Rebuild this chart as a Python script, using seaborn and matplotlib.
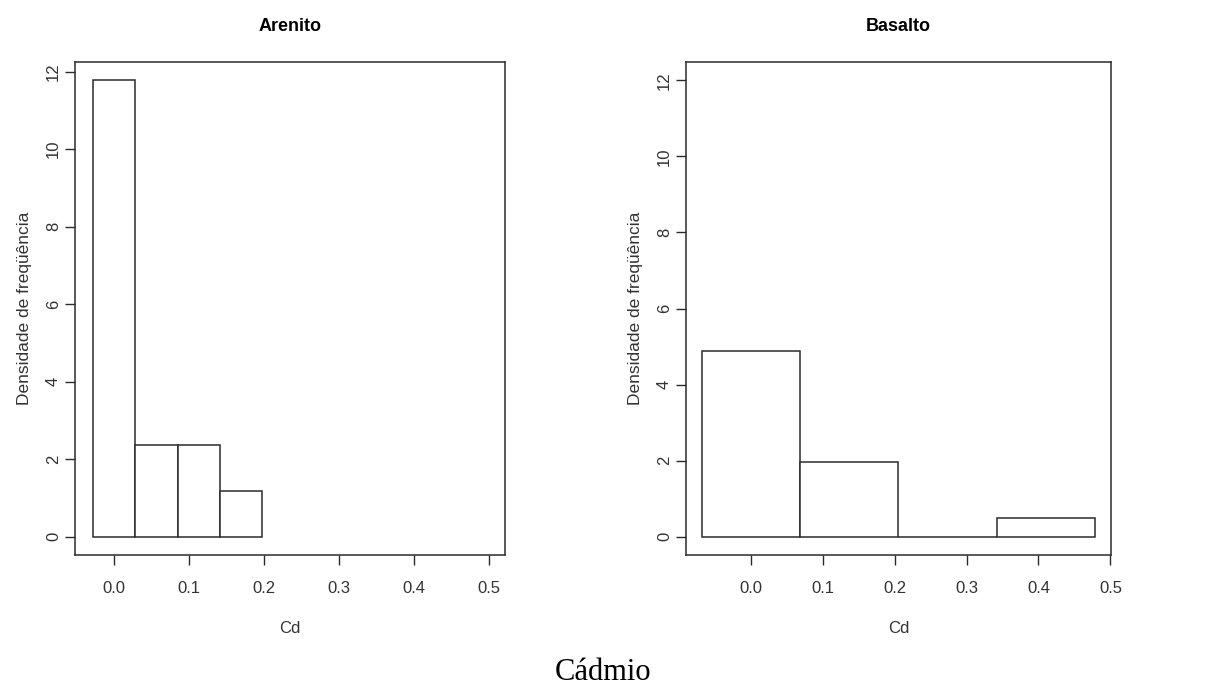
import matplotlib
matplotlib.use("Agg")
import matplotlib.pyplot as plt
import seaborn as sns
import numpy as np
import pandas as pd

# ---- data ----
panel_titles = ["Arenito", "Basalto"]
arenito_edges = [-0.0283, 0.0283, 0.0849, 0.1415, 0.1981]
arenito_counts = [10, 2, 2, 1]
basalto_edges = [-0.068, 0.0685, 0.205, 0.342, 0.479]
basalto_counts = [10, 4, 0, 1]
x_ticks = [0.0, 0.1, 0.2, 0.3, 0.4, 0.5]
x_tick_labels = ["0.0", "0.1", "0.2", "0.3", "0.4", "0.5"]
y_ticks = [0, 2, 4, 6, 8, 10, 12]
x_label = "Cd"
y_label = "Densidade de freqüência"
caption = "Cádmio"

sns.set_theme(style="white")
plt.rcParams["font.family"] = ["Liberation Sans", "DejaVu Sans"]

W, H = 1207, 688
fig = plt.figure(figsize=(W / 100, H / 100), dpi=100)

def frac(x0, y0, x1, y1):
    return [x0 / W, 1 - y1 / H, (x1 - x0) / W, (y1 - y0) / H]

ax_specs = [
    (frac(75, 62, 505, 555), arenito_edges, arenito_counts, (-0.052, 0.522), (-0.47, 12.25)),
    (frac(686, 62, 1111, 555), basalto_edges, basalto_counts, (-0.0896, 0.5007), (-0.48, 12.48)),
]

line_col = "#2b2b2b"
text_col = "#333333"

for (rect, edges, counts, xlim, ylim), title in zip(ax_specs, panel_titles):
    ax = fig.add_axes(rect)
    e = np.array(edges)
    df = pd.DataFrame({"x": (e[:-1] + e[1:]) / 2, "w": counts})
    sns.histplot(data=df, x="x", weights="w", bins=list(edges), stat="density",
                 ax=ax, color="white", edgecolor=line_col, linewidth=1.1,
                 alpha=1.0)
    ax.set_xlim(*xlim)
    ax.set_ylim(*ylim)
    ax.set_xticks(x_ticks)
    ax.set_xticklabels(x_tick_labels)
    ax.set_yticks(y_ticks)
    ax.set_yticklabels([str(v) for v in y_ticks], rotation=90, va="center")
    ax.tick_params(axis="both", direction="out", length=7, width=1.0,
                   color=line_col, labelcolor=text_col, labelsize=12,
                   bottom=True, left=True, top=False, right=False)
    ax.tick_params(axis="x", pad=12)
    ax.tick_params(axis="y", pad=3)
    for sp in ax.spines.values():
        sp.set_color(line_col)
        sp.set_linewidth(1.1)
        sp.set_visible(True)
    ax.set_xlabel(x_label, fontsize=12, color=text_col, labelpad=18)
    ax.set_ylabel(y_label, fontsize=12.5, color=text_col, labelpad=10)
    ax.set_title(title, fontsize=13, fontweight="bold", color="black", pad=22)
    ax.grid(False)
    ax.set_facecolor("white")

fig.text(603 / W, 1 - 673 / H, caption, ha="center", va="center",
         fontsize=22, family=["Liberation Serif", "DejaVu Serif"], color="black")

fig.savefig("out.png", dpi=100, facecolor="white")
